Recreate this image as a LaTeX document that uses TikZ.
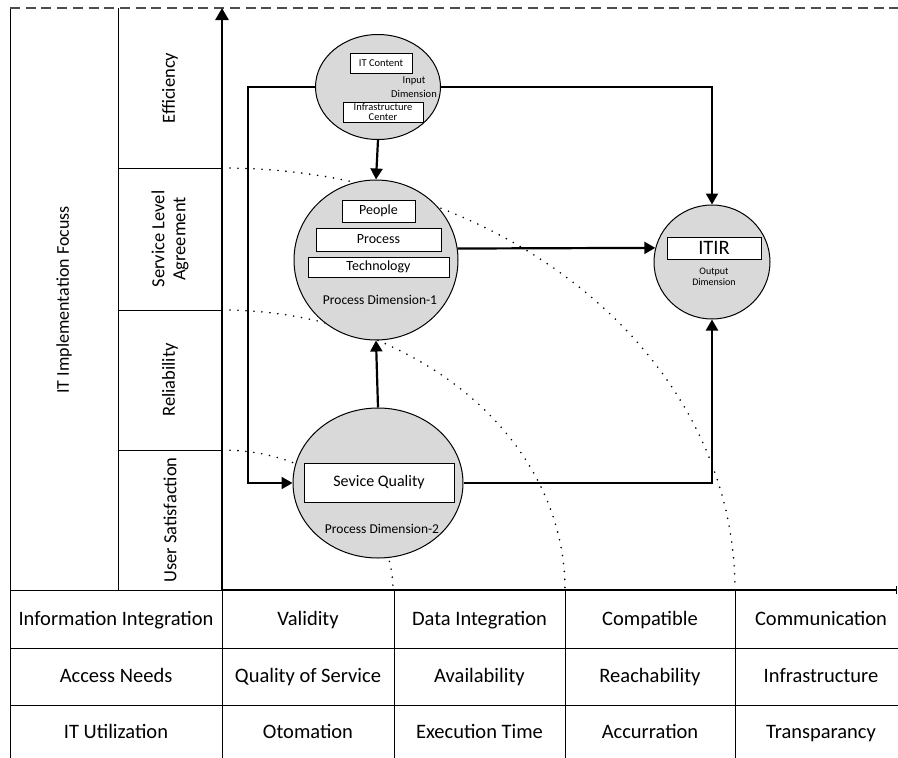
\documentclass[tikz,border=0pt]{standalone}
\usepackage{fontspec}
\setmainfont{Carlito}
\usetikzlibrary{arrows.meta,shapes.geometric}

\begin{document}
\begin{tikzpicture}[x=1pt,y=-1pt,
    cell/.style={font=\fontsize{20.5}{23}\selectfont,text height=14pt,text depth=4pt},
    side/.style={rotate=90,align=center,font=\fontsize{18.5}{21}\selectfont},
    dim/.style={ellipse,draw,fill=gray!30,line width=1pt,inner sep=0pt},
    box/.style={draw,fill=white,line width=0.9pt,inner sep=0pt},
    conn/.style={line width=2.2pt,-{Triangle[length=11pt,width=12pt]}},
    arcdots/.style={line width=1.8pt,line cap=round,dash pattern=on 0pt off 8pt}]
    \useasboundingbox (0,0) rectangle (898,758);
    %% axes
    \coordinate (O) at (222,590);
    \coordinate (Y) at (222,8);
    \coordinate (X) at (897,590);
    %% left columns and table grid
    \draw[line width=1pt] (10,8) -- (10,758);
    \draw[line width=1pt] (118,8) -- (118,590);
    \foreach \yy in {168,310,450}
        \draw[line width=1pt] (118,\yy) -- (222,\yy);
    \draw[line width=1pt] (10,590) -- (O);
    \foreach \yy in {648,705}
        \draw[line width=1pt] (10,\yy) -- (898,\yy);
    \foreach \xx in {222,394,565,735}
        \draw[line width=1pt] (\xx,590) -- (\xx,758);
    \draw[gray!60!black,line width=1.3pt,dash pattern=on 10pt off 5.7pt] (10,8) -- (898,8);
    \node[side,font=\fontsize{18}{21}\selectfont] (focus) at (64,300) {IT Implementation Focuss};
    \foreach \n/\yc/\t in {eff/88/Efficiency, sla/239/{Service Level\\Agreement},
                           rel/380/Reliability, usr/520/User Satisfaction}
        \node[side] (\n) at (170,\yc) {\t};
    \foreach \r/\yc/\a/\b/\c/\d/\e in {
        1/620/Information Integration/Validity/Data Integration/Compatible/Communication,
        2/677/Access Needs/Quality of Service/Availability/Reachability/Infrastructure,
        3/733/IT Utilization/Otomation/Execution Time/Accurration/Transparancy}{
        \node[cell] (c\r a) at (116,\yc) {\a};
        \node[cell] (c\r b) at (308,\yc) {\b};
        \node[cell] (c\r c) at (479.5,\yc) {\c};
        \node[cell] (c\r d) at (650,\yc) {\d};
        \node[cell] (c\r e) at (821,\yc) {\e};
    }
    %% dotted levels
    \draw[arcdots] (222,450) arc[start angle=90,end angle=0,x radius=171pt,y radius=140pt];
    \draw[arcdots] (222,310) arc[start angle=90,end angle=0,x radius=343pt,y radius=280pt];
    \draw[arcdots] (222,168) arc[start angle=90,end angle=0,x radius=513pt,y radius=422pt];
    %% axis lines
    \draw[line width=2.6pt,-{Triangle[length=12pt,width=13pt]}] (O) -- (Y);
    \draw[line width=2.6pt,-{Bar[width=8pt,line width=1pt]}] (O) -- (X);
    %% dimensions
    \node[dim,minimum width=125pt,minimum height=105pt] (inp) at (378,87) {};
    \node[dim,minimum width=164pt,minimum height=160pt] (pd1) at (376,260) {};
    \node[dim,minimum width=170pt,minimum height=150pt] (pd2) at (378,483) {};
    \node[dim,minimum width=116pt,minimum height=114pt] (itir) at (712,262) {};
    %% input dimension
    \node[box,minimum width=62pt,minimum height=20pt,font=\fontsize{10.5}{11}\selectfont] (itc) at (381,63) {IT Content};
    \node[align=center,inner sep=0pt,font=\fontsize{10.5}{14}\selectfont] (inlbl) at (414,87) {Input\\Dimension};
    \node[box,minimum width=80pt,minimum height=20pt,align=center,font=\fontsize{10.5}{10}\selectfont] (infc) at (383,112) {Infrastructure\\Center};
    %% process dimension-1
    \node[box,minimum width=73pt,minimum height=22pt,font=\fontsize{14}{15}\selectfont] (ppl) at (378.5,211) {People};
    \node[box,minimum width=125pt,minimum height=23pt,font=\fontsize{14}{15}\selectfont] (proc) at (378.5,239.5) {Process};
    \node[box,minimum width=141pt,minimum height=20pt,font=\fontsize{14}{15}\selectfont] (tech) at (378.5,267) {Technology};
    \node[font=\fontsize{13.5}{15}\selectfont] (pd1lbl) at (380,300) {Process Dimension-1};
    %% process dimension-2
    \node[box,minimum width=150pt,minimum height=39pt,font=\fontsize{16}{17}\selectfont] (sq) at (379,482.5) {Sevice Quality};
    \node[font=\fontsize{13.5}{15}\selectfont] (pd2lbl) at (382,529) {Process Dimension-2};
    %% output dimension
    \node[box,minimum width=94pt,minimum height=22pt,font=\fontsize{20.5}{22}\selectfont] (itirbox) at (714,248) {ITIR};
    \node[align=center,inner sep=0pt,font=\fontsize{10}{11}\selectfont] (outlbl) at (714,277) {Output\\Dimension};
    %% flows
    \draw[conn] (inp.west) -- ++(-67,0) |- (pd2.west);
    \draw[conn] (inp.east) -| (itir.north);
    \draw[conn] (inp.south) -- (pd1.north);
    \draw[conn] (pd1.8) -- (itir.166);
    \draw[conn] (pd2.north) -- (pd1.south);
    \draw[conn] (pd2.east) -| (itir.south);
\end{tikzpicture}
\end{document}
